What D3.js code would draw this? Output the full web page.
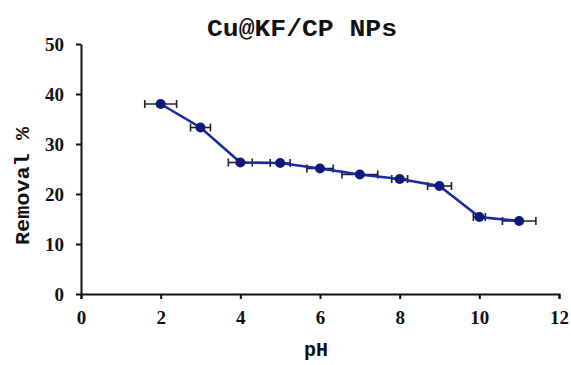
<!DOCTYPE html>
<html><head><meta charset="utf-8">
<script src="https://cdn.jsdelivr.net/npm/d3@7"></script>
<style>body{margin:0;background:#fff}</style>
</head><body>
<svg id="c" width="571" height="365"></svg>
<script>
const pH = [2,3,4,5,6,7,8,9,10,11];
const removal = [38.0,33.3,26.3,26.2,25.1,23.9,23.0,21.6,15.4,14.6];
const xErr = [0.4,0.25,0.3,0.25,0.33,0.45,0.2,0.3,0.15,0.42];
const yErr = [0.6,0.6,0.6,0.6,0.6,0.6,0.6,0.6,0.6,0.6];
const xTicks = [0,2,4,6,8,10,12];
const yTicks = [0,10,20,30,40,50];

const svg = d3.select("#c");
const x = d3.scaleLinear().domain([0,12]).range([81,559]);
const y = d3.scaleLinear().domain([0,50]).range([294,44]);

const xAxis = svg.append("g").attr("transform","translate(0,294)")
  .call(d3.axisBottom(x).tickValues(xTicks).tickSize(5).tickSizeOuter(5).tickFormat(d3.format("d")));
const yAxis = svg.append("g").attr("transform","translate(81,0)")
  .call(d3.axisLeft(y).tickValues(yTicks).tickSize(5).tickSizeOuter(0).tickFormat(d3.format("d")));
const serif = "'Liberation Serif', 'DejaVu Serif', serif";
[xAxis,yAxis].forEach(g=>{
  g.attr("font-family",serif).attr("font-size",19).attr("font-weight","bold");
  g.select(".domain").attr("stroke","#111").attr("stroke-width",2);
  g.selectAll(".tick line").attr("stroke","#111").attr("stroke-width",2);
  g.selectAll(".tick text").attr("fill","#111").attr("font-family",serif)
   .style("font-family",serif).style("font-weight","bold").style("font-size","19px");
});
xAxis.selectAll(".tick text").attr("y",12).attr("dy","0.95em");
yAxis.selectAll(".tick text").attr("x",-17);

const data = pH.map((p,i)=>({p, r:removal[i], ex:xErr[i], ey:yErr[i]}));

// error bars
const eb = svg.append("g").attr("stroke","#222").attr("stroke-width",1.6);
data.forEach(d=>{
  eb.append("line").attr("x1",x(d.p-d.ex)).attr("x2",x(d.p+d.ex)).attr("y1",y(d.r)).attr("y2",y(d.r));
  eb.append("line").attr("x1",x(d.p-d.ex)).attr("x2",x(d.p-d.ex)).attr("y1",y(d.r)-4).attr("y2",y(d.r)+4);
  eb.append("line").attr("x1",x(d.p+d.ex)).attr("x2",x(d.p+d.ex)).attr("y1",y(d.r)-4).attr("y2",y(d.r)+4);
  eb.append("line").attr("x1",x(d.p)).attr("x2",x(d.p)).attr("y1",y(d.r+d.ey)).attr("y2",y(d.r-d.ey));
});

svg.append("path").datum(data)
  .attr("fill","none").attr("stroke","#1a2aa0").attr("stroke-width",2.6)
  .attr("d",d3.line().x(d=>x(d.p)).y(d=>y(d.r)));

svg.append("g").selectAll("circle").data(data).join("circle")
  .attr("cx",d=>x(d.p)).attr("cy",d=>y(d.r)).attr("r",5).attr("fill","#0c1a7a");

const mono = "'Liberation Mono', 'DejaVu Sans Mono', monospace";
svg.append("text").attr("x",302).attr("y",36).attr("text-anchor","middle")
  .attr("textLength",190).attr("lengthAdjust","spacingAndGlyphs")
  .style("font-family",mono).style("font-weight","bold").style("font-size","23px").attr("fill","#111")
  .text("Cu@KF/CP NPs");
svg.append("text").attr("x",316).attr("y",356).attr("text-anchor","middle")
  .style("font-family",mono).style("font-weight","bold").style("font-size","20px").attr("fill","#111")
  .text("pH");
svg.append("text").attr("transform","translate(29,186) rotate(-90)").attr("text-anchor","middle")
  .attr("textLength",118).attr("lengthAdjust","spacingAndGlyphs")
  .style("font-family",mono).style("font-weight","bold").style("font-size","20px").attr("fill","#111")
  .text("Removal %");
</script>
</body></html>
